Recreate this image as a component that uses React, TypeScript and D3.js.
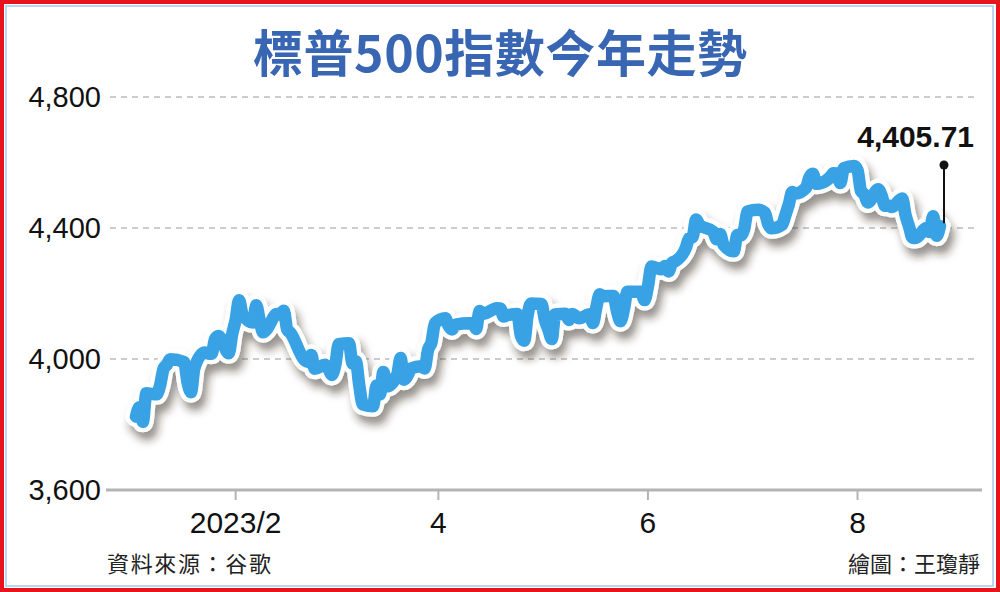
import React from "react";
import * as d3 from "d3";

const dates: string[] = [
  "2023-01-03","2023-01-04","2023-01-05","2023-01-06","2023-01-09","2023-01-10","2023-01-11","2023-01-12","2023-01-13",
  "2023-01-17","2023-01-18","2023-01-19","2023-01-20","2023-01-23","2023-01-24","2023-01-25","2023-01-26","2023-01-27",
  "2023-01-30","2023-01-31","2023-02-01","2023-02-02","2023-02-03","2023-02-06","2023-02-07","2023-02-08","2023-02-09",
  "2023-02-10","2023-02-13","2023-02-14","2023-02-15","2023-02-16","2023-02-17","2023-02-21","2023-02-22","2023-02-23",
  "2023-02-24","2023-02-27","2023-02-28","2023-03-01","2023-03-02","2023-03-03","2023-03-06","2023-03-07","2023-03-08",
  "2023-03-09","2023-03-10","2023-03-13","2023-03-14","2023-03-15","2023-03-16","2023-03-17","2023-03-20","2023-03-21",
  "2023-03-22","2023-03-23","2023-03-24","2023-03-27","2023-03-28","2023-03-29","2023-03-30","2023-03-31","2023-04-03",
  "2023-04-04","2023-04-05","2023-04-06","2023-04-10","2023-04-11","2023-04-12","2023-04-13","2023-04-14","2023-04-17",
  "2023-04-18","2023-04-19","2023-04-20","2023-04-21","2023-04-24","2023-04-25","2023-04-26","2023-04-27","2023-04-28",
  "2023-05-01","2023-05-02","2023-05-03","2023-05-04","2023-05-05","2023-05-08","2023-05-09","2023-05-10","2023-05-11",
  "2023-05-12","2023-05-15","2023-05-16","2023-05-17","2023-05-18","2023-05-19","2023-05-22","2023-05-23","2023-05-24",
  "2023-05-25","2023-05-26","2023-05-30","2023-05-31","2023-06-01","2023-06-02","2023-06-05","2023-06-06","2023-06-07",
  "2023-06-08","2023-06-09","2023-06-12","2023-06-13","2023-06-14","2023-06-15","2023-06-16","2023-06-20","2023-06-21",
  "2023-06-22","2023-06-23","2023-06-26","2023-06-27","2023-06-28","2023-06-29","2023-06-30","2023-07-03","2023-07-05",
  "2023-07-06","2023-07-07","2023-07-10","2023-07-11","2023-07-12","2023-07-13","2023-07-14","2023-07-17","2023-07-18",
  "2023-07-19","2023-07-20","2023-07-21","2023-07-24","2023-07-25","2023-07-26","2023-07-27","2023-07-28","2023-07-31",
  "2023-08-01","2023-08-02","2023-08-03","2023-08-04","2023-08-07","2023-08-08","2023-08-09","2023-08-10","2023-08-11",
  "2023-08-14","2023-08-15","2023-08-16","2023-08-17","2023-08-18","2023-08-21","2023-08-22","2023-08-23","2023-08-24",
  "2023-08-25",
];

const closes: number[] = [
  3824.14,3852.97,3808.10,3895.08,3892.09,3919.25,3969.61,3983.17,3999.09,
  3990.97,3928.86,3898.85,3972.61,4019.81,4016.95,4016.22,4060.43,4070.56,
  4017.77,4076.60,4119.21,4179.76,4136.48,4111.08,4164.00,4117.86,4081.50,
  4090.46,4137.29,4136.13,4147.60,4090.41,4079.09,3997.34,3991.05,4012.32,
  3970.04,3982.24,3970.15,3951.39,3981.35,4045.64,4048.42,3986.37,3992.01,
  3918.32,3861.59,3855.76,3919.29,3891.93,3960.28,3916.64,3951.57,4002.87,
  3936.97,3948.72,3970.99,3977.53,3971.27,4027.81,4050.83,4109.31,4124.51,
  4100.60,4090.38,4105.02,4109.11,4108.94,4091.95,4146.22,4137.64,4151.32,
  4154.87,4154.52,4129.79,4133.52,4137.04,4071.63,4055.99,4135.35,4169.48,
  4167.87,4119.58,4090.75,4061.22,4136.25,4138.12,4119.17,4137.64,4130.62,
  4124.08,4136.28,4109.90,4158.77,4198.05,4191.98,4192.63,4145.58,4115.24,
  4151.28,4205.45,4205.52,4179.83,4221.02,4282.37,4273.79,4283.85,4267.52,
  4293.93,4298.86,4338.93,4369.01,4372.59,4425.84,4409.59,4388.71,4365.69,
  4381.89,4348.33,4328.82,4378.41,4376.86,4396.44,4450.38,4455.59,4446.82,
  4411.59,4398.95,4409.53,4439.26,4472.16,4510.04,4505.42,4522.79,4554.98,
  4565.72,4534.87,4536.34,4554.64,4567.46,4566.75,4537.41,4582.23,4588.96,
  4576.73,4513.39,4501.89,4478.03,4518.44,4499.38,4467.71,4468.83,4464.05,
  4489.72,4437.86,4404.33,4370.36,4369.71,4399.77,4387.55,4436.01,4376.31,
  4405.71,
];

const yTicks: number[] = [3600, 4000, 4400, 4800];
const xTickDates: string[] = ["2023-02-01", "2023-04-01", "2023-06-01", "2023-08-01"];
const xTickLabels: string[] = ["2023/2", "4", "6", "8"];

const title = "標普500指數今年走勢";
const sourceText = "資料來源：谷歌";
const creditText = "繪圖：王瓊靜";
const lastLabel = "4,405.71";

const W = 1000;
const H = 592;

export default function App() {
  const parse = d3.timeParse("%Y-%m-%d");
  const data = dates.map((d, i) => ({ date: parse(d) as Date, value: closes[i] }));

  const x = d3
    .scaleTime()
    .domain([data[0].date, data[data.length - 1].date])
    .range([136, 940]);
  const y = d3.scaleLinear().domain([3600, 4800]).range([490, 97]);

  const line = d3
    .line<{ date: Date; value: number }>()
    .x((d) => x(d.date))
    .y((d) => y(d.value))
    .curve(d3.curveMonotoneX);
  const path = line(data) || "";

  const last = data[data.length - 1];
  const lx = x(last.date);
  const ly = y(last.value);

  const numFont = "'Liberation Sans', Arial, Helvetica, sans-serif";
  const cjkFont = "'Noto Sans CJK TC', 'Noto Sans CJK SC', sans-serif";

  return (
    <svg
      width={W}
      height={H}
      viewBox={`0 0 ${W} ${H}`}
      style={{ position: "absolute", left: 0, top: 0, background: "#fff" }}
    >
      <defs>
        <filter id="shadow" x="-10%" y="-20%" width="120%" height="150%">
          <feDropShadow dx="4" dy="8" stdDeviation="4" floodColor="#2a1a10" floodOpacity="0.5" />
        </filter>
      </defs>
      <rect x={0} y={0} width={W} height={H} fill="#fff" />
      <rect x={2} y={2} width={W - 4} height={H - 4} fill="none" stroke="#e8141b" strokeWidth={4} />
      <rect x={6} y={6} width={987} height={580} fill="none" stroke="#a9c9ea" strokeWidth={1.5} />

      <text
        x={500}
        y={72}
        textAnchor="middle"
        fontFamily={cjkFont}
        fontWeight={700}
        fontSize={50}
        fill="#3866b2"
        textLength={494}
        lengthAdjust="spacing"
      >
        {title}
      </text>

      {yTicks.filter((t) => t !== 3600).map((t) => (
        <line
          key={"g" + t}
          x1={110}
          x2={978}
          y1={y(t)}
          y2={y(t)}
          stroke="#9a9a9a"
          strokeWidth={1.2}
          strokeDasharray="6 5"
        />
      ))}
      <line x1={106} x2={982} y1={y(3600)} y2={y(3600)} stroke="#b4b4b4" strokeWidth={3} />
      {xTickDates.map((d) => {
        const xx = x(parse(d) as Date);
        return <line key={"t" + d} x1={xx} x2={xx} y1={y(3600)} y2={y(3600) + 10} stroke="#b4b4b4" strokeWidth={2} />;
      })}

      {yTicks.map((t) => (
        <text
          key={"yl" + t}
          x={101}
          y={y(t)}
          dy="0.36em"
          textAnchor="end"
          fontFamily={numFont}
          fontSize={29}
          fill="#111"
        >
          {d3.format(",")(t)}
        </text>
      ))}

      {xTickDates.map((d, i) => (
        <text
          key={"xl" + d}
          x={x(parse(d) as Date)}
          y={533}
          textAnchor="middle"
          fontFamily={numFont}
          fontSize={30}
          fill="#111"
        >
          {xTickLabels[i]}
        </text>
      ))}

      <g filter="url(#shadow)">
        <path d={path} fill="none" stroke="#fff" strokeWidth={21} strokeLinejoin="round" strokeLinecap="round" />
      </g>
      <path d={path} fill="none" stroke="#39a2e5" strokeWidth={12.5} strokeLinejoin="round" strokeLinecap="round" />

      <line x1={lx + 4} x2={lx + 4} y1={165} y2={ly - 3} stroke="#111" strokeWidth={2} />
      <circle cx={lx + 4} cy={165} r={4.5} fill="#111" />
      <text
        x={974}
        y={147}
        textAnchor="end"
        fontFamily={numFont}
        fontWeight={700}
        fontSize={30}
        fill="#111"
      >
        {lastLabel}
      </text>

      <text x={107} y={572} fontFamily={cjkFont} fontSize={22} fill="#222" textLength={164} lengthAdjust="spacing">
        {sourceText}
      </text>
      <text x={980} y={572} textAnchor="end" fontFamily={cjkFont} fontSize={22} fill="#222">
        {creditText}
      </text>
    </svg>
  );
}
